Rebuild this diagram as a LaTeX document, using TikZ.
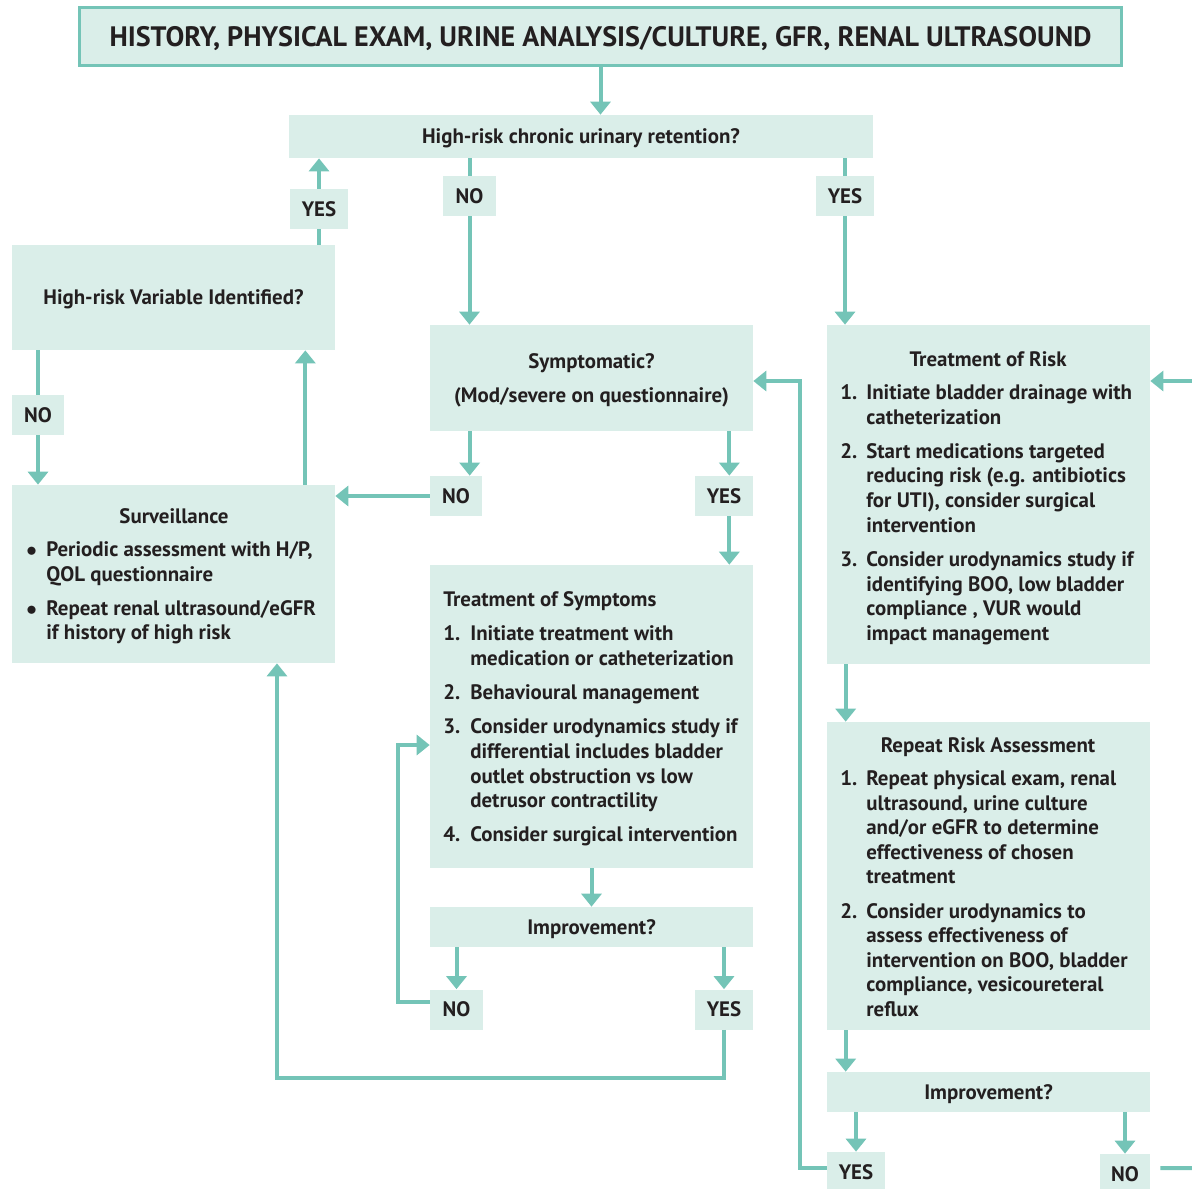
\documentclass[tikz,border=0pt]{standalone}
\usepackage{fontspec}
\setmainfont{PT Sans}
\usetikzlibrary{arrows.meta,calc}
\definecolor{boxfill}{HTML}{DAEEE9}
\definecolor{lineteal}{HTML}{74C4B7}
\definecolor{ink}{HTML}{231F20}
\begin{document}
\begin{tikzpicture}[x=0.02cm,y=-0.02cm,
  every node/.style={font=\fontsize{11.9}{14}\selectfont\bfseries,text=ink,inner sep=0,text depth=0pt},
  box/.style={fill=boxfill,minimum width=6.46cm},
  lbl/.style={fill=boxfill,minimum height=0.8cm,minimum width=#1},
  lbl/.default=1.16cm,
  arr/.style={draw=lineteal,line width=0.08cm,-{Triangle[width=0.4cm,length=0.26cm]}},
  con/.style={draw=lineteal,line width=0.08cm}]

\useasboundingbox (0,0) rectangle (1192,1188);

% Nodes
\node[box,draw=lineteal,line width=0.06cm,minimum width=20.84cm,minimum height=1.16cm,font=\fontsize{16}{19}\selectfont\bfseries] (head) at (600.5,36.5) {HISTORY, PHYSICAL EXAM, URINE ANALYSIS/CULTURE, GFR, RENAL ULTRASOUND};
\node[box,minimum width=11.68cm,minimum height=0.86cm] (q1) at (581,136.5) {High-risk chronic urinary retention?};
\node[box,minimum height=2.1cm] (hrv) at (173.5,297.5) {High-risk Variable Identified?};
\node[box,minimum height=2.12cm,align=center] (sym) at (591.5,378) {Symptomatic?\\[5pt](Mod/severe on questionnaire)};
\node[box,minimum height=6.78cm] (tr) at (988.5,494.5) {};
\node[box,minimum height=3.56cm] (surv) at (173.5,574) {};
\node[box,minimum height=6.06cm] (ts) at (591.5,716.5) {};
\node[box,minimum height=0.8cm] (imp1) at (591.5,927) {Improvement?};
\node[box,minimum height=6.16cm] (rra) at (988.5,876) {};
\node[box,minimum height=0.8cm] (imp2) at (988.5,1092) {Improvement?};

% box texts
\node (survT) at (174,516) {Surveillance};
\node[anchor=base west] (survL) at (26,556.5) {\begin{tabular}[t]{@{}p{0.4cm}@{}l@{}}
$\bullet$ & Periodic assessment with H/P,\\
 & QOL questionnaire\\[5.5pt]
$\bullet$ & Repeat renal ultrasound/eGFR\\
 & if history of high risk
\end{tabular}};
\node[anchor=base west] (tsL) at (443,606.5) {\begin{tabular}[t]{@{}p{0.54cm}@{}l@{}}
\multicolumn{2}{@{}l@{}}{Treatment of Symptoms}\\[5.5pt]
1. & Initiate treatment with\\
 & medication or catheterization\\[5.5pt]
2. & Behavioural management\\[5.5pt]
3. & Consider urodynamics study if\\
 & differential includes bladder\\
 & outlet obstruction vs low\\
 & detrusor contractility\\[5.5pt]
4. & Consider surgical intervention
\end{tabular}};
\node (trT) at (988,359) {Treatment of Risk};
\node[anchor=base west] (trL) at (840,399.5) {\begin{tabular}[t]{@{}p{0.52cm}@{}l@{}}
1. & Initiate bladder drainage with\\
 & catheterization\\[5.5pt]
2. & Start medications targeted\\
 & reducing risk (e.g. antibiotics\\
 & for UTI), consider surgical\\
 & intervention\\[5.5pt]
3. & Consider urodynamics study if\\
 & identifying BOO, low bladder\\
 & compliance , VUR would\\
 & impact management
\end{tabular}};
\node (rraT) at (988,745) {Repeat Risk Assessment};
\node[anchor=base west] (rraL) at (840,785.5) {\begin{tabular}[t]{@{}p{0.52cm}@{}l@{}}
1. & Repeat physical exam, renal\\
 & ultrasound, urine culture\\
 & and/or eGFR to determine\\
 & effectiveness of chosen\\
 & treatment\\[5.5pt]
2. & Consider urodynamics to\\
 & assess effectiveness of\\
 & intervention on BOO, bladder\\
 & compliance, vesicoureteral\\
 & reflux
\end{tabular}};

% labels
\node[lbl] (yesA) at (319,209) {YES};
\node[lbl=1.06cm] (noA) at (469.5,196) {NO};
\node[lbl] (yesB) at (845,196) {YES};
\node[lbl=1.04cm] (noB) at (38,415) {NO};
\node[lbl=1.04cm] (noC) at (456,496) {NO};
\node[lbl] (yesC) at (724,496) {YES};
\node[lbl=1.06cm] (noD) at (456.5,1009.5) {NO};
\node[lbl] (yesD) at (724,1009.5) {YES};
\node[lbl] (yesE) at (856,1172) {YES};
\node[lbl=1.0cm] (noE) at (1125,1174) {NO};

\coordinate (symL) at ([xshift=0.8cm]sym.south west);
\coordinate (symR) at ([xshift=-0.48cm]sym.south east);
\coordinate (trB) at ([xshift=0.38cm]tr.south west);
\coordinate (survU) at ([xshift=-0.6cm]surv.north east);
\coordinate (survB) at ([xshift=2.07cm]surv.south);
\coordinate (tsIn) at ([yshift=-0.57cm]ts.west);
\coordinate (symIn) at ([yshift=-0.06cm]sym.east);
\coordinate (inR) at (1194,381);
\coordinate (outR) at (1194,1168);

%arcs
\path (head.south) edge[arr] (head.south |- q1.north);
\path (yesA |- hrv.north) edge[con] (yesA.south);
\path (yesA.north) edge[arr] (yesA |- q1.south);
\path (noA |- q1.south) edge[con] (noA.north);
\path (noA.south) edge[arr] (noA |- sym.north);
\path (yesB |- q1.south) edge[con] (yesB.north);
\path (yesB.south) edge[arr] (yesB |- tr.north);
\path (noB |- hrv.south) edge[con] (noB.north);
\path (noB.south) edge[arr] (noB |- surv.north);
\path (survU) edge[arr] (survU |- hrv.south);

\path (symL) edge[arr] (symL |- noC.north);
\path (noC.west) edge[arr] (noC.west -| surv.east);
\path (symR) edge[arr] (symR |- yesC.north);
\path (symR |- yesC.south) edge[arr] (symR |- ts.north);
\path (ts.south) edge[arr] (ts.south |- imp1.north);
\path (noD |- imp1.south) edge[arr] (noD.north);
\path (yesD |- imp1.south) edge[arr] (yesD.north);
\draw[arr] ([yshift=0.15cm]noD.west) -- ++(-32,0) |- (tsIn);
\draw[arr] (yesD.south) -- ++(0,48) -| (survB);

\path (inR) edge[arr] (inR -| tr.east);
\path (trB) edge[arr] (trB |- rra.north);
\path (trB |- rra.south) edge[arr] (trB |- imp2.north);
\path (yesE |- imp2.south) edge[arr] (yesE.north);
\path (noE |- imp2.south) edge[arr] (noE.north);
\draw[arr] ([yshift=0.08cm]yesE.west) -- ++(-27,0) |- (symIn);
\draw[con] ([xshift=0.2cm,yshift=0.12cm]noE.east) -- (outR);

\end{tikzpicture}
\end{document}
